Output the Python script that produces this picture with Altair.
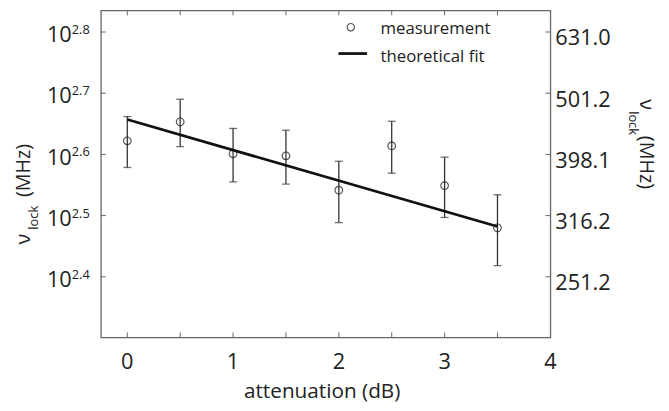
import altair as alt
import pandas as pd

# ---- data ----
atten_db = [0, 0.5, 1, 1.5, 2, 2.5, 3, 3.5]
v_lock = [419, 450, 399, 396, 348, 411, 354, 302]
v_err = [40, 40, 40, 40, 40, 40, 40, 40]

fit_x = [0, 3.5]
fit_y = [454, 303.5]

x_tick_vals = [0, 0.5, 1, 1.5, 2, 2.5, 3, 3.5]
x_label_vals = [0, 1, 2, 3, 4]
y_exponents = ["2.4", "2.5", "2.6", "2.7", "2.8"]
right_labels = ["251.2", "316.2", "398.1", "501.2", "631.0"]

# ---- layout constants ----
W, H = 455, 331
FONT = "Open Sans"
TXT = "#222222"
FRAME = "#666666"

xs = alt.Scale(domain=[-0.25, 4], nice=False, zero=False)
ys = alt.Scale(type="log", domain=[200, 684.4], nice=False)

meas = pd.DataFrame({
    "x": atten_db,
    "v": v_lock,
    "lo": [a - b for a, b in zip(v_lock, v_err)],
    "hi": [a + b for a, b in zip(v_lock, v_err)],
})
fit = pd.DataFrame({"x": fit_x, "v": fit_y})
yt = pd.DataFrame({
    "val": [10 ** float(e) for e in y_exponents],
    "sup": y_exponents,
    "base": ["10"] * len(y_exponents),
    "rlab": right_labels,
})
xt = pd.DataFrame({"x": x_tick_vals})
xl = pd.DataFrame({"x": x_label_vals, "lab": [str(v) for v in x_label_vals]})
one = pd.DataFrame({"a": [0]})

X = alt.X("x:Q", scale=xs, axis=None)

# error bars
bars = alt.Chart(meas).mark_rule(color="#333333", strokeWidth=1.3).encode(
    x=X, y=alt.Y("lo:Q", scale=ys, axis=None), y2="hi:Q")
cap_hi = alt.Chart(meas).mark_tick(orient="horizontal", size=8, thickness=1.3, color="#333333").encode(
    x=X, y=alt.Y("hi:Q", scale=ys, axis=None))
cap_lo = alt.Chart(meas).mark_tick(orient="horizontal", size=8, thickness=1.3, color="#333333").encode(
    x=X, y=alt.Y("lo:Q", scale=ys, axis=None))
pts = alt.Chart(meas).mark_point(shape="circle", size=60, filled=False, color="#111111", strokeWidth=1.2).encode(
    x=X, y=alt.Y("v:Q", scale=ys, axis=None))
fitline = alt.Chart(fit).mark_line(color="#111111", strokeWidth=2.8).encode(
    x=X, y=alt.Y("v:Q", scale=ys, axis=None))

# inward ticks on all four sides
tick_b = alt.Chart(xt).mark_rule(color=FRAME, strokeWidth=1).encode(
    x=X, y=alt.value(H), y2=alt.value(H - 5))
tick_t = alt.Chart(xt).mark_rule(color=FRAME, strokeWidth=1).encode(
    x=X, y=alt.value(0), y2=alt.value(5))
tick_l = alt.Chart(yt).mark_rule(color=FRAME, strokeWidth=1).encode(
    y=alt.Y("val:Q", scale=ys, axis=None), x=alt.value(0), x2=alt.value(5))
tick_r = alt.Chart(yt).mark_rule(color=FRAME, strokeWidth=1).encode(
    y=alt.Y("val:Q", scale=ys, axis=None), x=alt.value(W), x2=alt.value(W - 5))

# left tick labels 10^e
lab_base = alt.Chart(yt).mark_text(font=FONT, fontSize=22, align="right", baseline="alphabetic",
                                   dy=10.3, color=TXT).encode(
    y=alt.Y("val:Q", scale=ys, axis=None), x=alt.value(-29.5), text="base:N")
lab_sup = alt.Chart(yt).mark_text(font=FONT, fontSize=13, align="left", baseline="alphabetic",
                                  dy=2, color=TXT).encode(
    y=alt.Y("val:Q", scale=ys, axis=None), x=alt.value(-29.5), text="sup:N")
# right tick labels
lab_r = alt.Chart(yt).mark_text(font=FONT, fontSize=22, align="left", baseline="alphabetic",
                                dy=13.6, color=TXT).encode(
    y=alt.Y("val:Q", scale=ys, axis=None), x=alt.value(W + 5), text="rlab:N")
# x tick labels
lab_x = alt.Chart(xl).mark_text(font=FONT, fontSize=22, align="center", baseline="alphabetic",
                                color=TXT).encode(
    x=X, y=alt.value(H + 32.5), text="lab:N")

def txt(s, x, y, size, angle=0, align="left"):
    m = alt.Chart(one).mark_text(font=FONT, fontSize=size, align=align, baseline="alphabetic",
                                 color=TXT, angle=angle)
    return m.encode(x=alt.value(x), y=alt.value(y), text=alt.value(s))

xtitle = txt("attenuation (dB)", 224, H + 61, 21, align="center")

# left y title (reads bottom to top)
lt1 = txt("ν", -72, 237, 20, angle=270)
lt2 = txt("lock", -64, 222, 13, angle=270)
lt3 = txt("(MHz)", -72, 189, 20, angle=270)
# right y title (reads top to bottom)
rt1 = txt("ν", 546, 90, 20, angle=90)
rt2 = txt("lock", 535, 102, 13, angle=90)
rt3 = txt("(MHz)", 546, 127, 20, angle=90)

# legend
leg_pt = alt.Chart(one).mark_point(shape="circle", size=55, filled=False, color="#111111",
                                   strokeWidth=1.2).encode(x=alt.value(253), y=alt.value(17))
leg_ln = alt.Chart(one).mark_rule(color="#111111", strokeWidth=2.8).encode(
    x=alt.value(240.5), x2=alt.value(269.5), y=alt.value(43.7))
leg_t1 = txt("measurement", 283, 23.7, 17)
leg_t2 = txt("theoretical fit", 283, 52, 17)

chart = alt.layer(
    tick_b, tick_t, tick_l, tick_r,
    bars, cap_hi, cap_lo, fitline, pts,
    lab_base, lab_sup, lab_r, lab_x, xtitle,
    lt1, lt2, lt3, rt1, rt2, rt3,
    leg_pt, leg_ln, leg_t1, leg_t2,
).properties(
    width=W, height=H,
    autosize=alt.AutoSizeParams(type="none"),
    padding={"left": 94, "top": 0, "right": 112, "bottom": 64},
).configure_view(stroke=FRAME, strokeWidth=1.3)

chart.save("out.html", embed_options={"renderer": "svg", "actions": False})
